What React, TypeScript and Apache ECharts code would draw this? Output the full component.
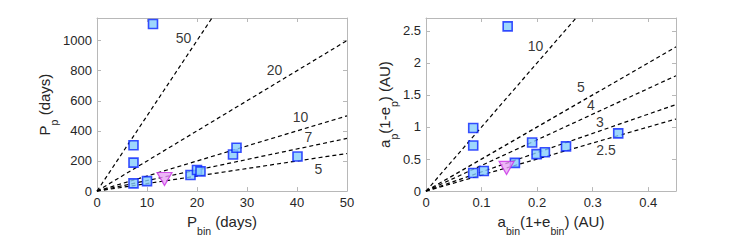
import React, { useEffect, useRef } from "react";
import * as echarts from "echarts";

// ---- Left panel data (periods, days) ----
const leftPbin = [11.2, 7.3, 7.3, 7.3, 10.0, 18.7, 20.0, 20.7, 27.2, 27.9, 40.1];
const leftPp = [1110, 305, 189, 51, 66, 107, 140, 131, 243, 288, 230];
const leftTriPbin = [13.5];
const leftTriPp = [80];
const leftRatios = [50, 20, 10, 7, 5];
const leftRatioText = ["50", "20", "10", "7", "5"];
const leftRatioTextX = [17.3, 35.5, 40.7, 42.3, 44.3];
const leftRatioTextY = [1017, 805, 489, 361, 148];
const leftXMax = 50;
const leftYMax = 1150;

// ---- Right panel data (distances, AU) ----
const rightAbin = [0.147, 0.085, 0.085, 0.085, 0.104, 0.16, 0.191, 0.199, 0.214, 0.252, 0.346];
const rightAp = [2.57, 0.985, 0.712, 0.283, 0.314, 0.44, 0.758, 0.576, 0.606, 0.697, 0.9];
const rightTriAbin = [0.145];
const rightTriAp = [0.362];
const rightRatios = [10, 5, 4, 3, 2.5];
const rightRatioText = ["10", "5", "4", "3", "2.5"];
const rightRatioTextX = [0.197, 0.279, 0.297, 0.313, 0.324];
const rightRatioTextY = [2.258, 1.627, 1.348, 1.071, 0.647];
const rightXMax = 0.45;
const rightYMax = 2.7;

const FONT = "'Liberation Sans', Arial, Helvetica, sans-serif";
const TICK_COLOR = "#262626";
const BOX_COLOR = "#b8b8b8";

const richName = {
  m: { fontSize: 15, fontFamily: FONT, color: TICK_COLOR, lineHeight: 18, verticalAlign: "top" as const },
  s: { fontSize: 10.5, fontFamily: FONT, color: TICK_COLOR, lineHeight: 10, padding: [11, 0, 0, 0], verticalAlign: "top" as const },
};

function mainAxis(
  kind: "x" | "y",
  grid: number,
  min: number,
  max: number,
  interval: number,
  name: string,
  nameGap: number,
  showMax: boolean
) {
  return {
    type: "value",
    gridIndex: grid,
    position: kind === "x" ? "bottom" : "left",
    min,
    max,
    interval,
    name,
    nameLocation: "middle",
    nameGap,
    nameRotate: kind === "y" ? 90 : 0,
    nameTextStyle: { rich: richName },
    axisLine: { show: true, onZero: false, lineStyle: { color: BOX_COLOR, width: 1 } },
    axisTick: { show: true, inside: true, length: 4, lineStyle: { color: BOX_COLOR } },
    axisLabel: {
      show: true,
      showMaxLabel: showMax,
      margin: 5,
      fontSize: 13,
      fontFamily: FONT,
      color: TICK_COLOR,
      formatter: (v: number) => String(Math.round(v * 1000) / 1000),
    },
    splitLine: { show: false },
  };
}

function mirrorAxis(kind: "x" | "y", grid: number, min: number, max: number, interval: number) {
  return {
    type: "value",
    gridIndex: grid,
    position: kind === "x" ? "top" : "right",
    min,
    max,
    interval,
    axisLine: { show: true, onZero: false, lineStyle: { color: BOX_COLOR, width: 1 } },
    axisTick: { show: true, inside: true, length: 4, lineStyle: { color: BOX_COLOR } },
    axisLabel: { show: false },
    splitLine: { show: false },
  };
}

function ratioLines(ratios: number[], xMax: number, yMax: number, xIdx: number, yIdx: number) {
  return ratios.map((k) => {
    const xe = Math.min(xMax, yMax / k);
    return {
      type: "line",
      xAxisIndex: xIdx,
      yAxisIndex: yIdx,
      data: [
        [0, 0],
        [xe, xe * k],
      ],
      symbol: "none",
      silent: true,
      z: 1,
      lineStyle: { color: "#000", width: 1.2, type: [4, 3] },
    };
  });
}

function ratioLabels(text: string[], xs: number[], ys: number[], xIdx: number, yIdx: number) {
  return {
    type: "scatter",
    xAxisIndex: xIdx,
    yAxisIndex: yIdx,
    symbolSize: 1,
    itemStyle: { color: "rgba(0,0,0,0)" },
    silent: true,
    z: 3,
    data: text.map((t, i) => ({ name: t, value: [xs[i], ys[i]] })),
    label: {
      show: true,
      position: "inside",
      formatter: (p: any) => p.name,
      fontSize: 14,
      fontFamily: FONT,
      color: "#000",
    },
  };
}

function squares(xs: number[], ys: number[], xIdx: number, yIdx: number) {
  return {
    type: "scatter",
    xAxisIndex: xIdx,
    yAxisIndex: yIdx,
    symbol: "rect",
    symbolSize: 9,
    z: 4,
    itemStyle: { color: "#86cdfb", borderColor: "#0a24ff", borderWidth: 1.6 },
    data: xs.map((x, i) => [x, ys[i]]),
  };
}

function triangles(xs: number[], ys: number[], xIdx: number, yIdx: number) {
  return {
    type: "scatter",
    xAxisIndex: xIdx,
    yAxisIndex: yIdx,
    symbol: "triangle",
    symbolRotate: 180,
    symbolSize: [15, 13],
    z: 5,
    itemStyle: { color: "#e9a3f5", borderColor: "#c930e6", borderWidth: 1.2 },
    data: xs.map((x, i) => [x, ys[i]]),
  };
}

export default function App() {
  const ref = useRef<HTMLDivElement>(null);
  useEffect(() => {
    if (!ref.current) return;
    const chart = echarts.init(ref.current, null, { renderer: "svg" });
    chart.setOption({
      animation: false,
      backgroundColor: "#fff",
      grid: [
        { left: 97, top: 18, width: 250, height: 179, containLabel: false },
        { left: 426, top: 18, width: 250, height: 179, containLabel: false },
      ],
      xAxis: [
        mainAxis("x", 0, 0, leftXMax, 10, "{m|P}{s|bin}{m| (days)}", 20, true),
        mirrorAxis("x", 0, 0, leftXMax, 10),
        mainAxis("x", 1, 0, rightXMax, 0.1, "{m|a}{s|bin}{m|(1+e}{s|bin}{m|) (AU)}", 20, false),
        mirrorAxis("x", 1, 0, rightXMax, 0.1),
      ],
      yAxis: [
        mainAxis("y", 0, 0, leftYMax, 200, "{m|P}{s|p}{m| (days)}", 40, false),
        mirrorAxis("y", 0, 0, leftYMax, 200),
        mainAxis("y", 1, 0, rightYMax, 0.5, "{m|a}{s|p}{m|(1-e}{s|p}{m|) (AU)}", 23, false),
        mirrorAxis("y", 1, 0, rightYMax, 0.5),
      ],
      series: [
        ...ratioLines(leftRatios, leftXMax, leftYMax, 0, 0),
        ratioLabels(leftRatioText, leftRatioTextX, leftRatioTextY, 0, 0),
        squares(leftPbin, leftPp, 0, 0),
        triangles(leftTriPbin, leftTriPp, 0, 0),
        ...ratioLines(rightRatios, rightXMax, rightYMax, 2, 2),
        ratioLabels(rightRatioText, rightRatioTextX, rightRatioTextY, 2, 2),
        squares(rightAbin, rightAp, 2, 2),
        triangles(rightTriAbin, rightTriAp, 2, 2),
      ],
    });
    return () => chart.dispose();
  }, []);
  return (
    <div
      ref={ref}
      style={{ position: "fixed", left: 0, top: 0, width: 747, height: 241, background: "#fff" }}
    />
  );
}
